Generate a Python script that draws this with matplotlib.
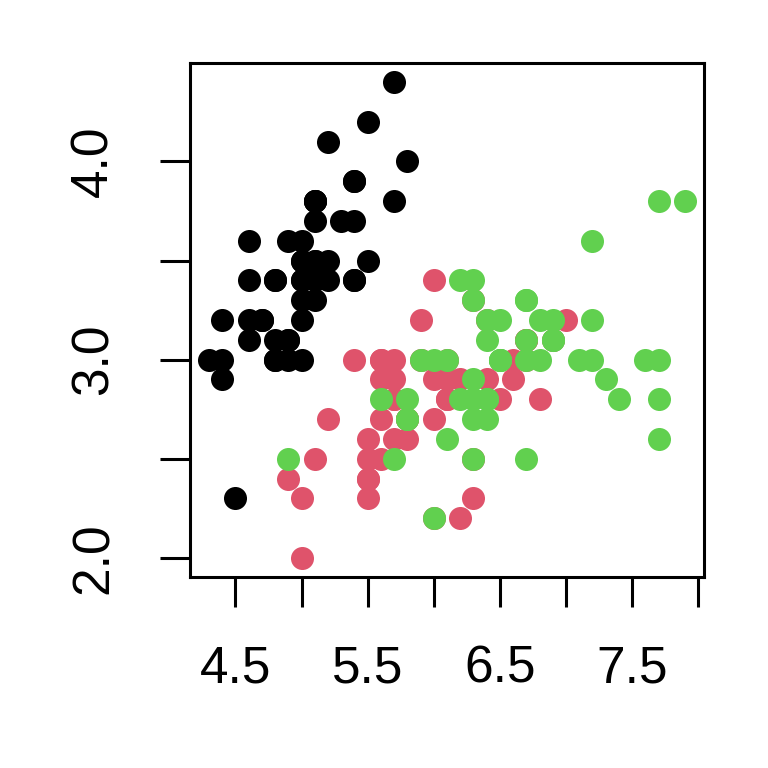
import matplotlib
matplotlib.use("Agg")
from matplotlib import pyplot as plt

# iris sepal length / width, by species
setosa_x = [5.1, 4.9, 4.7, 4.6, 5.0, 5.4, 4.6, 5.0, 4.4, 4.9, 5.4, 4.8, 4.8, 4.3, 5.8, 5.7, 5.4,
            5.1, 5.7, 5.1, 5.4, 5.1, 4.6, 5.1, 4.8, 5.0, 5.0, 5.2, 5.2, 4.7, 4.8, 5.4, 5.2, 5.5,
            4.9, 5.0, 5.5, 4.9, 4.4, 5.1, 5.0, 4.5, 4.4, 5.0, 5.1, 4.8, 5.1, 4.6, 5.3, 5.0]
setosa_y = [3.5, 3.0, 3.2, 3.1, 3.6, 3.9, 3.4, 3.4, 2.9, 3.1, 3.7, 3.4, 3.0, 3.0, 4.0, 4.4, 3.9,
            3.5, 3.8, 3.8, 3.4, 3.7, 3.6, 3.3, 3.4, 3.0, 3.4, 3.5, 3.4, 3.2, 3.1, 3.4, 4.1, 4.2,
            3.1, 3.2, 3.5, 3.6, 3.0, 3.4, 3.5, 2.3, 3.2, 3.5, 3.8, 3.0, 3.8, 3.2, 3.7, 3.3]
versicolor_x = [7.0, 6.4, 6.9, 5.5, 6.5, 5.7, 6.3, 4.9, 6.6, 5.2, 5.0, 5.9, 6.0, 6.1, 5.6, 6.7, 5.6,
                5.8, 6.2, 5.6, 5.9, 6.1, 6.3, 6.1, 6.4, 6.6, 6.8, 6.7, 6.0, 5.7, 5.5, 5.5, 5.8, 6.0,
                5.4, 6.0, 6.7, 6.3, 5.6, 5.5, 5.5, 6.1, 5.8, 5.0, 5.6, 5.7, 5.7, 6.2, 5.1, 5.7]
versicolor_y = [3.2, 3.2, 3.1, 2.3, 2.8, 2.8, 3.3, 2.4, 2.9, 2.7, 2.0, 3.0, 2.2, 2.9, 2.9, 3.1, 3.0,
                2.7, 2.2, 2.5, 3.2, 2.8, 2.5, 2.8, 2.9, 3.0, 2.8, 3.0, 2.9, 2.6, 2.4, 2.4, 2.7, 2.7,
                3.0, 3.4, 3.1, 2.3, 3.0, 2.5, 2.6, 3.0, 2.6, 2.3, 2.7, 3.0, 2.9, 2.9, 2.5, 2.8]
virginica_x = [6.3, 5.8, 7.1, 6.3, 6.5, 7.6, 4.9, 7.3, 6.7, 7.2, 6.5, 6.4, 6.8, 5.7, 5.8, 6.4, 6.5,
               7.7, 7.7, 6.0, 6.9, 5.6, 7.7, 6.3, 6.7, 7.2, 6.2, 6.1, 6.4, 7.2, 7.4, 7.9, 6.4, 6.3,
               6.1, 7.7, 6.3, 6.4, 6.0, 6.9, 6.7, 6.9, 5.8, 6.8, 6.7, 6.7, 6.3, 6.5, 6.2, 5.9]
virginica_y = [3.3, 2.7, 3.0, 2.9, 3.0, 3.0, 2.5, 2.9, 2.5, 3.6, 3.2, 2.7, 3.0, 2.5, 2.8, 3.2, 3.0,
               3.8, 2.6, 2.2, 3.2, 2.8, 2.8, 2.7, 3.3, 3.2, 2.8, 3.0, 2.8, 3.0, 2.8, 3.8, 2.8, 2.8,
               2.6, 3.0, 3.4, 3.1, 3.0, 3.1, 3.1, 3.1, 2.7, 3.2, 3.3, 3.0, 2.5, 3.0, 3.4, 3.0]

x_ticks = [4.5, 5.0, 5.5, 6.0, 6.5, 7.0, 7.5, 8.0]
x_labels = ["4.5", "", "5.5", "", "6.5", "", "7.5", ""]
y_ticks = [2.0, 2.5, 3.0, 3.5, 4.0]
y_labels = ["2.0", "", "3.0", "", "4.0"]

plt.rcParams["font.family"] = ["Liberation Sans", "DejaVu Sans"]

fig = plt.figure(figsize=(7.68, 7.68), dpi=100)
ax = fig.add_axes([190 / 768, 191 / 768, 514 / 768, 514 / 768])

ax.scatter(setosa_x, setosa_y, s=275, color="#000000", linewidths=0)
ax.scatter(versicolor_x, versicolor_y, s=275, color="#DF536B", linewidths=0)
ax.scatter(virginica_x, virginica_y, s=275, color="#61D04F", linewidths=0)

# R style axis range (4% padding)
xmin, xmax = 4.3, 7.9
ymin, ymax = 2.0, 4.4
ax.set_xlim(xmin - 0.04 * (xmax - xmin), xmax + 0.04 * (xmax - xmin))
ax.set_ylim(ymin - 0.04 * (ymax - ymin), ymax + 0.04 * (ymax - ymin))

ax.set_xticks(x_ticks)
ax.set_xticklabels(x_labels)
ax.set_yticks(y_ticks)
ax.set_yticklabels(y_labels, rotation=90, va="center")

ax.tick_params(axis="both", length=21.5, width=2.2, labelsize=37, color="black")
ax.tick_params(axis="x", pad=27)
ax.tick_params(axis="y", pad=30)
for sp in ax.spines.values():
    sp.set_linewidth(2.2)

# R draws the axis only up to the last tick
ax.spines["bottom"].set_visible(False)
ax.spines["left"].set_visible(False)
ax.plot([0, 1], [0, 0], transform=ax.transAxes, color="black", lw=2.2, clip_on=False)
ax.plot([0, 0], [0, 1], transform=ax.transAxes, color="black", lw=2.2, clip_on=False)

fig.savefig("out.png", dpi=100)
